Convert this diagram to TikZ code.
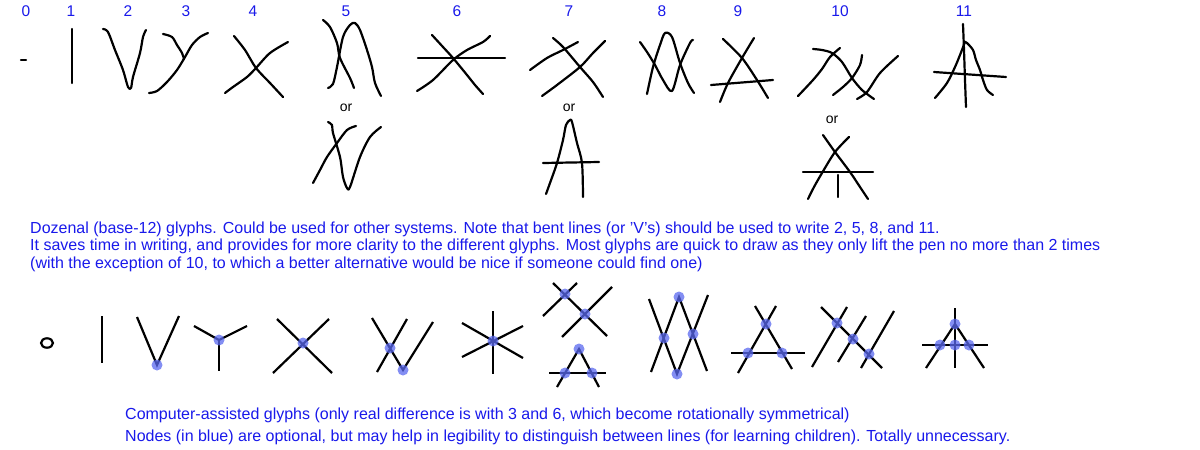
\documentclass[tikz,border=0pt]{standalone}
\usepackage{fontspec}
\setmainfont{Liberation Sans}
\definecolor{txtblue}{RGB}{25,25,235}
\definecolor{nodeblue}{RGB}{90,105,240}
\begin{document}
\begin{tikzpicture}[x=1pt,y=-1pt,
 hand/.style={line width=2.2pt, line cap=round, line join=round},
 glyph/.style={line width=2.2pt},
 dot/.style={circle, fill=nodeblue, fill opacity=0.75, inner sep=0pt, minimum size=11pt},
 digit/.style={text=txtblue, font=\fontsize{15.5}{17}\selectfont, inner sep=0pt},
 ortext/.style={font=\fontsize{14}{16}\selectfont, inner sep=0pt},
 note/.style={text=txtblue, font=\fontsize{16}{19}\selectfont, anchor=base west, inner sep=0pt}
]
\fill[white] (0,0) rectangle (1200,450);
\useasboundingbox (0,0) rectangle (1200,450);

% ---- top digit labels
\foreach \x/\t [count=\i] in {26/0,71/1,128/2,186/3,253/4,346/5,457/6,569/7,662/8,738/9,840/10,964/11}
  \node[digit] (d\i) at (\x,11) {\t};

% ---- hand-drawn glyphs
% 0
\draw[hand] (21,60) -- (26,60);
% 1
\draw[hand] (72,29) -- (72,83);
% 2
\draw[hand] plot[smooth,tension=0.5] coordinates {(103,29) (108,32) (115,50) (123,70) (128,87) (131,88) (133,77) (140,53) (143,37) (146,30)};
% 3
\draw[hand] plot[smooth,tension=0.5] coordinates {(163,34) (172,37) (177,45) (182,53) (184,59)};
\draw[hand] plot[smooth,tension=0.5] coordinates {(208,33) (200,37) (192,45) (185,57) (177,70) (167,82) (157,91) (149,93)};
% 4
\draw[hand] plot[smooth,tension=0.5] coordinates {(234,36) (245,50) (256,68) (270,83) (283,97)};
\draw[hand] plot[smooth,tension=0.5] coordinates {(225,93) (233,87) (247,77) (256,68) (270,53) (288,42)};
% 5
\draw[hand] plot[smooth,tension=0.5] coordinates {(323,20) (330,27) (337,43) (340,58) (350,78) (354,88)};
\draw[hand] plot[smooth,tension=0.5] coordinates {(328,88) (333,84) (337,67) (343,37) (350,25) (355,23) (360,30) (367,50) (372,67) (375,83) (381,96)};
\node[ortext] (or5) at (346,108) {or};
\draw[hand] plot[smooth,tension=0.5] coordinates {(328,122) (332,125) (333,133) (340,157) (343,177) (347,188) (350,187) (360,157) (370,137) (381,127)};
\draw[hand] plot[smooth,tension=0.5] coordinates {(356,126) (347,130) (337,143) (327,157) (320,170) (313,183)};
% 6
\draw[hand] (418,58) -- (505,58);
\draw[hand] plot[smooth,tension=0.5] coordinates {(432,35) (443,47) (453,58) (467,75) (475,85) (483,94)};
\draw[hand] plot[smooth,tension=0.5] coordinates {(417,91) (433,80) (453,60) (467,50) (483,42) (490,36)};
% 7
\draw[hand] plot[smooth,tension=0.5] coordinates {(553,38) (563,47) (580,67) (593,82) (603,97)};
\draw[hand] plot[smooth,tension=0.5] coordinates {(530,70) (547,58) (563,50) (578,42)};
\draw[hand] plot[smooth,tension=0.5] coordinates {(542,96) (557,85) (580,67) (593,53) (605,41)};
\node[ortext] (or7) at (569,108) {or};
\draw[hand] plot[smooth,tension=0.5] coordinates {(546,194) (550,183) (557,163) (563,140) (566,125) (570,120) (572,122) (577,143) (582,163) (583,197)};
\draw[hand] (543,163) -- (599,162);
% 8
\draw[hand] plot[smooth,tension=0.5] coordinates {(640,42) (647,52) (655,65) (663,80) (672,91) (680,65) (690,43) (693,40)};
\draw[hand] plot[smooth,tension=0.5] coordinates {(647,94) (653,67) (660,45) (665,33) (672,37) (680,63) (688,83) (694,93)};
% 9
\draw[hand] plot[smooth,tension=0.5] coordinates {(723,39) (742,58) (757,80) (768,98)};
\draw[hand] plot[smooth,tension=0.5] coordinates {(754,38) (742,58) (728,83) (720,102)};
\draw[hand] (711,85) -- (773,80);
% 10
\draw[hand] plot[smooth,tension=0.5] coordinates {(813,49) (822,50) (832,53) (842,62) (852,78) (862,90) (874,99)};
\draw[hand] plot[smooth,tension=0.5] coordinates {(840,48) (830,57) (822,69) (813,80) (798,96)};
\draw[hand] plot[smooth,tension=0.5] coordinates {(862,55) (860,65) (852,78) (843,87) (833,95)};
\draw[hand] plot[smooth,tension=0.5] coordinates {(898,56) (880,73) (867,92) (857,99)};
\node[ortext] (or10) at (832,120) {or};
\draw[hand] plot[smooth,tension=0.5] coordinates {(823,135) (835,152) (850,172) (860,187) (868,199)};
\draw[hand] plot[smooth,tension=0.5] coordinates {(849,137) (835,152) (822,173) (814,187) (808,199)};
\draw[hand] (803,172) -- (873,172);
\draw[hand] (838,175) -- (838,197);
% 11
\draw[hand] plot[smooth,tension=0.5] coordinates {(963,24) (964,50) (965,80) (966,107)};
\draw[hand] plot[smooth,tension=0.5] coordinates {(965,42) (960,55) (955,67) (947,83) (935,98)};
\draw[hand] plot[smooth,tension=0.5] coordinates {(965,42) (967,43) (973,50) (976,60) (980,70) (983,80) (987,90) (993,95)};
\draw[hand] (934,72) -- (1006,77);

% ---- text block 1
\node[note] (t1) at (30,233) {Dozenal (base-12) glyphs. Could be used for other systems. Note that bent lines (or 'V's) should be used to write 2, 5, 8, and 11.};
\node[note] (t2) at (30,250.5) {It saves time in writing, and provides for more clarity to the different glyphs. Most glyphs are quick to draw as they only lift the pen no more than 2 times};
\node[note] (t3) at (30,268) {(with the exception of 10, to which a better alternative would be nice if someone could find one)};

% ---- computer-assisted glyphs
% 0
\draw[glyph] (47,343) ellipse (6pt and 4.7pt);
% 1
\draw[glyph] (102,316) -- (102,363);
% 2
\draw[glyph] (137,317) -- (157,365) -- (179,316);
\node[dot] (n2) at (157,365) {};
% 3
\draw[glyph] (194,326) -- (219,340) -- (247,326);
\draw[glyph] (219,340) -- (219,371);
\node[dot] (n3) at (219,340) {};
% 4
\draw[glyph] (277,319) -- (332,373);
\draw[glyph] (273,373) -- (329,319);
\node[dot] (n4) at (303,343) {};
% 5
\draw[glyph] (372,318) -- (403,370) -- (433,322);
\draw[glyph] (377,372) -- (407,319);
\node[dot] (n5a) at (390,348) {};
\node[dot] (n5b) at (403,370) {};
% 6
\draw[glyph] (493,311) -- (493,374);
\draw[glyph] (462,323) -- (523,358);
\draw[glyph] (462,357) -- (523,326);
\node[dot] (n6) at (493,341) {};
% 7 (top)
\draw[glyph] (553,283) -- (607,336);
\draw[glyph] (543,316) -- (577,283);
\draw[glyph] (562,337) -- (612,287);
\node[dot] (n7a) at (565,294) {};
\node[dot] (n7b) at (585,314) {};
% 7 (bottom)
\draw[glyph] (557,387) -- (579,349) -- (599,387);
\draw[glyph] (549,373) -- (606,373);
\node[dot] (n7c) at (579,349) {};
\node[dot] (n7d) at (565,373) {};
\node[dot] (n7e) at (592,373) {};
% 8
\draw[glyph] (649,299) -- (677,374) -- (708,295);
\draw[glyph] (651,372) -- (679,297) -- (707,371);
\node[dot] (n8a) at (679,297) {};
\node[dot] (n8b) at (664,338) {};
\node[dot] (n8c) at (693,334) {};
\node[dot] (n8d) at (677,374) {};
% 9
\draw[glyph] (755,306) -- (792,369);
\draw[glyph] (776,306) -- (738,373);
\draw[glyph] (731,353) -- (805,353);
\node[dot] (n9a) at (766,324) {};
\node[dot] (n9b) at (748,353) {};
\node[dot] (n9c) at (782,353) {};
% 10
\draw[glyph] (821,307) -- (882,368);
\draw[glyph] (847,307) -- (812,367);
\draw[glyph] (866,316) -- (838,362);
\draw[glyph] (894,311) -- (861,368);
\node[dot] (n10a) at (837,323) {};
\node[dot] (n10b) at (853,339) {};
\node[dot] (n10c) at (869,354) {};
% 11
\draw[glyph] (955,308) -- (955,368);
\draw[glyph] (926,368) -- (955,324) -- (984,368);
\draw[glyph] (922,345) -- (988,345);
\node[dot] (n11a) at (955,324) {};
\node[dot] (n11b) at (940,345) {};
\node[dot] (n11c) at (955,345) {};
\node[dot] (n11d) at (969,345) {};

% ---- text block 2
\node[note] (t4) at (125,419.5) {Computer-assisted glyphs (only real difference is with 3 and 6, which become rotationally symmetrical)};
\node[note] (t5) at (125,441.5) {Nodes (in blue) are optional, but may help in legibility to distinguish between lines (for learning children). Totally unnecessary.};
\end{tikzpicture}
\end{document}
